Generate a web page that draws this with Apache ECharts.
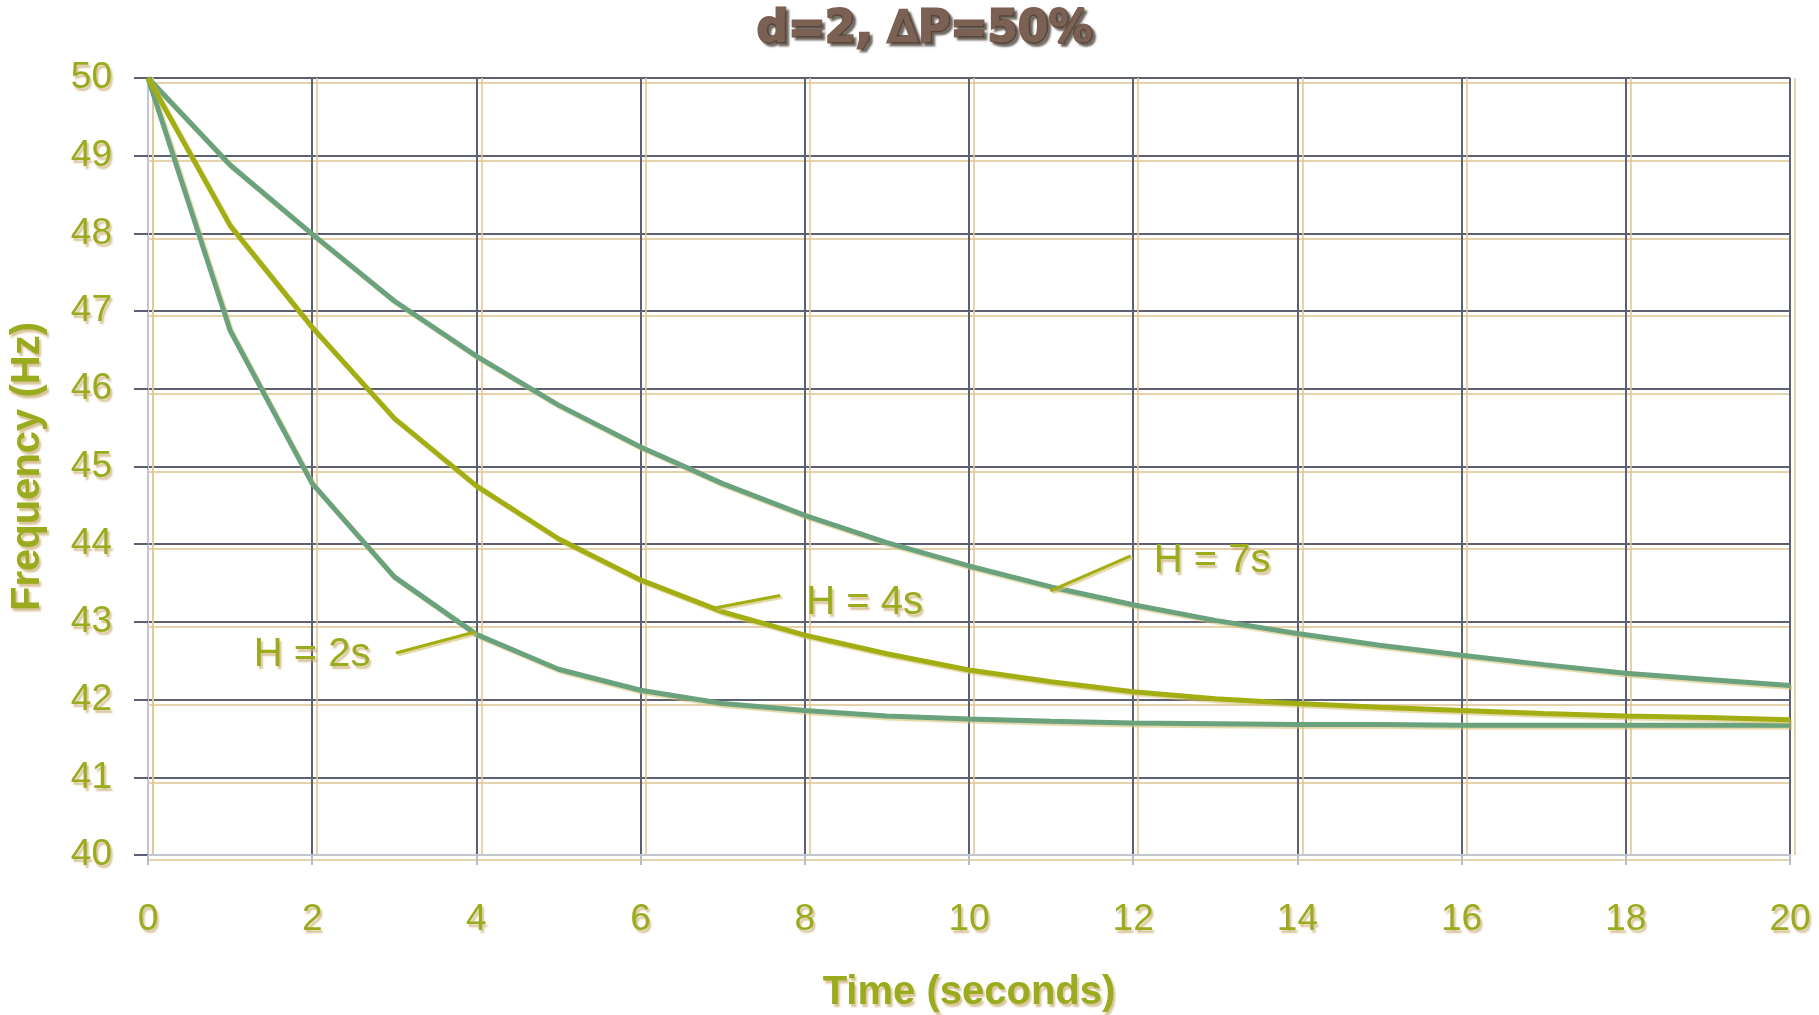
<!DOCTYPE html>
<html><head><meta charset="utf-8">
<script src="https://cdn.jsdelivr.net/npm/echarts@6/dist/echarts.min.js"></script>
<style>html,body{margin:0;padding:0;background:#fff}#c{width:1819px;height:1015px}</style>
</head><body><div id="c"></div>
<script>
const times = [0,1,2,3,4,5,6,7,8,9,10,11,12,13,14,15,16,17,18,19,20];
const h2 = [50,46.75,44.78,43.58,42.84,42.39,42.12,41.95,41.86,41.79,41.75,41.72,41.70,41.69,41.68,41.68,41.67,41.67,41.67,41.67,41.67];
const h4 = [50,48.10,46.79,45.62,44.75,44.07,43.54,43.13,42.83,42.59,42.38,42.23,42.10,42.01,41.95,41.90,41.86,41.82,41.79,41.77,41.74];
const h7 = [50,48.88,47.99,47.13,46.42,45.79,45.25,44.78,44.37,44.02,43.72,43.45,43.22,43.02,42.85,42.70,42.57,42.45,42.34,42.26,42.18];
const xTicks = [0,2,4,6,8,10,12,14,16,18,20];
const yTicks = [40,41,42,43,44,45,46,47,48,49,50];
const seriesNames = ['H = 2s','H = 4s','H = 7s'];
// annotation label positions [t, f] and leader lines [[t1,f1],[t2,f2]]
const labelPos = [[2.0,42.57],[8.73,43.25],[12.96,43.78]];
const leaders = [[[3.02,42.60],[3.98,42.87]],[[6.90,43.18],[7.70,43.34]],[[10.99,43.40],[11.97,43.85]]];

const green = '#6aa27e', olive = '#a3ae12', txt = '#9aab1e';
const shadowTxt = {textShadowColor:'rgba(200,170,110,0.7)',textShadowOffsetX:2,textShadowOffsetY:3,textShadowBlur:2};
const vals = [h2,h4,h7];
const colors = [green, olive, green];

const series = vals.map((v,i)=>({
  name: seriesNames[i], type:'line', showSymbol:false, symbol:'none',
  data: times.map((t,j)=>[t,v[j]]),
  lineStyle:{color:colors[i], width:5, shadowColor:'rgba(210,190,110,0.6)', shadowOffsetX:2, shadowOffsetY:2, shadowBlur:1},
  z: i===1?4:3,
  markLine:{silent:true, symbol:'none', animation:false,
    lineStyle:{color:olive, width:3, type:'solid', shadowColor:'rgba(210,190,110,0.6)', shadowOffsetX:2, shadowOffsetY:2},
    label:{show:false},
    data:[[{coord:leaders[i][0]},{coord:leaders[i][1]}]]},
  markPoint:{silent:true, symbol:'circle', symbolSize:0, animation:false,
    label:{show:true, formatter:seriesNames[i], color:txt, fontSize:40, fontFamily:'Liberation Sans', ...shadowTxt},
    data:[{coord:labelPos[i]}]}
}));

const chart = echarts.init(document.getElementById('c'));
chart.setOption({
  animation:false,
  title:{text:'d=2, ∆P=50%', left:920, top:4, textAlign:'center',
    textStyle:{color:'#7b6153', fontSize:44, fontWeight:'bold', fontFamily:'DejaVu Sans', textBorderColor:'#7b6153', textBorderWidth:3,
      textShadowColor:'rgba(60,50,40,0.6)', textShadowOffsetX:3, textShadowOffsetY:3, textShadowBlur:2}},
  grid:{left:148, right:29, top:78, bottom:160, containLabel:false, outerBoundsMode:'none'},
  xAxis:{type:'value', min:0, max:20, interval:2,
    name:'Time (seconds)', nameLocation:'middle', nameGap:118,
    nameTextStyle:{color:txt, fontSize:40, fontWeight:'bold', fontFamily:'Liberation Sans', ...shadowTxt},
    axisLine:{show:true, onZero:false, lineStyle:{color:'#c4c6cf', width:2}},
    axisTick:{show:true, length:10, lineStyle:{color:'#b8bcc8', width:2}},
    axisLabel:{color:txt, fontSize:37, fontFamily:'Liberation Sans', margin:46, ...shadowTxt,
      formatter:v=>xTicks.includes(v)?String(v):''},
    splitLine:{show:true, lineStyle:{color:'#5c6070', width:2, shadowColor:'rgba(225,200,150,0.8)', shadowOffsetX:5, shadowOffsetY:0}}},
  yAxis:{type:'value', min:40, max:50, interval:1,
    name:'Frequency (Hz)', nameLocation:'middle', nameGap:100, nameRotate:90,
    nameTextStyle:{color:txt, fontSize:40, fontWeight:'bold', fontFamily:'Liberation Sans', ...shadowTxt},
    axisLine:{show:true, lineStyle:{color:'#c4c6cf', width:2, shadowColor:'rgba(225,200,150,0.8)', shadowOffsetX:5}},
    axisTick:{show:true, length:14, lineStyle:{color:'#5c6070', width:2}},
    axisLabel:{color:txt, fontSize:37, fontFamily:'Liberation Sans', margin:36, ...shadowTxt,
      formatter:v=>yTicks.includes(v)?String(v):''},
    splitLine:{show:true, lineStyle:{color:'#5c6070', width:2, shadowColor:'rgba(225,200,150,0.8)', shadowOffsetX:0, shadowOffsetY:5}}},
  series: series
});
</script></body></html>
